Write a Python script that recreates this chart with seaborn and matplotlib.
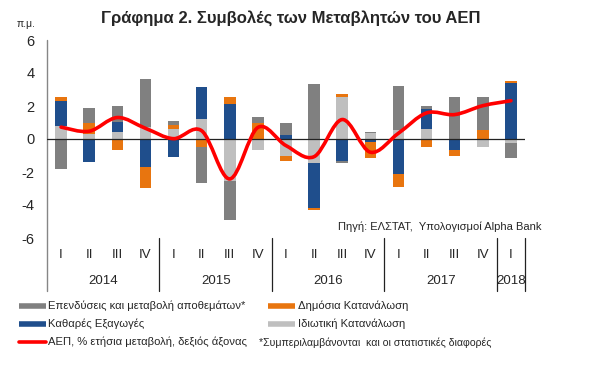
import numpy as np
import matplotlib
matplotlib.use("Agg")
import matplotlib.pyplot as plt
from matplotlib.path import Path
from matplotlib.patches import PathPatch
from matplotlib.lines import Line2D
import matplotlib.transforms as mtransforms
import seaborn as sns

# ---------------- data ----------------
quarters = ["I", "II", "III", "IV", "I", "II", "III", "IV", "I", "II", "III", "IV",
            "I", "II", "III", "IV", "I"]
years = ["2014", "2015", "2016", "2017", "2018"]
year_counts = [4, 4, 4, 4, 1]

private_cons = [0.81, 0.30, 0.44, 0.70, 0.60, 1.21, -2.53, -0.67, -1.01, -1.47, 2.57, 0.34,
                0.55, 0.60, 0.00, -0.50, -0.26]
net_exports = [1.47, -1.37, 0.57, -1.68, -1.07, 1.92, 2.12, 0.00, 0.26, -2.73, -1.31, -0.20,
               -2.12, 1.21, -0.67, 0.00, 3.39]
public_cons = [0.28, 0.70, -0.67, -1.31, 0.24, -0.46, 0.44, 0.97, -0.30, -0.08, 0.16, -0.97,
               -0.77, -0.50, -0.34, 0.55, 0.10]
investment = [-1.82, 0.87, 1.01, 2.95, 0.26, -2.22, -2.38, 0.34, 0.69, 3.33, -0.16, 0.10,
              2.65, 0.22, 2.53, 1.98, -0.91]
gdp = [0.72, 0.47, 1.30, 0.65, 0.02, 0.50, -2.42, 0.70, -0.40, -1.07, 1.18, -0.80,
       0.35, 1.58, 1.48, 2.02, 2.32]

lbl_inv = "Επενδύσεις και μεταβολή αποθεμάτων*"
lbl_pub = "Δημόσια Κατανάλωση"
lbl_net = "Καθαρές Εξαγωγές"
lbl_priv = "Ιδιωτική Κατανάλωση"
lbl_gdp = "ΑΕΠ, % ετήσια μεταβολή, δεξιός άξονας"
note = "*Συμπεριλαμβάνονται  και οι στατιστικές διαφορές"
source = "Πηγή: ΕΛΣΤΑΤ,  Υπολογισμοί Alpha Bank"
title = "Γράφημα 2. Συμβολές των Μεταβλητών του ΑΕΠ"
unit = "π.μ."

# ---------------- style ----------------
sns.set_theme(style="white")
plt.rcParams["font.family"] = ["Liberation Sans", "DejaVu Sans"]

C_LG = "#BFBFBF"
C_BLUE = "#1F4E8C"
C_OR = "#E8750F"
C_GRAY = "#808080"
C_RED = "#FF0000"

W, H = 591, 373
fig = plt.figure(figsize=(W / 100, H / 100), dpi=100)
ax = fig.add_axes([47 / W, 1 - 238 / H, 478 / W, 198 / H])

n = len(gdp)
x = np.arange(n)
series = [(private_cons, C_LG), (net_exports, C_BLUE), (public_cons, C_OR), (investment, C_GRAY)]
pos = np.zeros(n)
neg = np.zeros(n)
for vals, col in series:
    v = np.array(vals, dtype=float)
    bottoms = np.where(v >= 0, pos, neg)
    ax.bar(x, v, width=0.41, bottom=bottoms, color=col, edgecolor="none", zorder=2)
    pos = pos + np.where(v >= 0, v, 0)
    neg = neg + np.where(v < 0, v, 0)

ax.axhline(0, color="#222222", lw=0.9, zorder=3)

# smoothed GDP line (Bezier, Excel-like smoothing)
P = np.column_stack([x, gdp]).astype(float)
verts = [P[0]]
codes = [Path.MOVETO]
for i in range(n - 1):
    p0 = P[i - 1] if i > 0 else P[i]
    p1 = P[i]
    p2 = P[i + 1]
    p3 = P[i + 2] if i + 2 < n else P[i + 1]
    c1 = p1 + (p2 - p0) / 6.0
    c2 = p2 - (p3 - p1) / 6.0
    verts += [c1, c2, p2]
    codes += [Path.CURVE4] * 3
path = Path(verts, codes)
ax.add_patch(PathPatch(path, facecolor="none", edgecolor=C_RED, lw=2.6,
                       capstyle="round", joinstyle="round", zorder=4,
                       transform=ax.transData))

ax.set_xlim(-0.5, n - 0.5)
ax.set_ylim(-6, 6)
ax.set_yticks(np.arange(-6, 7, 2))
ax.set_yticklabels([str(t) for t in range(-6, 7, 2)], fontsize=10.5)
ax.tick_params(axis="y", length=0, pad=9)
ax.set_xticks([])
for s in ["top", "right", "bottom", "left"]:
    ax.spines[s].set_visible(False)

# axis line & year separators extending into the label area
trans = mtransforms.blended_transform_factory(ax.transData, ax.transAxes)
y_low = (238 - 291) / 198.0
ax.plot([-0.5, -0.5], [1, y_low], color="#868686", lw=1.0, transform=trans, clip_on=False)
bounds = np.cumsum(year_counts) - 0.5
for b in bounds:
    ax.plot([b, b], [0, y_low], color="#222222", lw=0.9, transform=trans, clip_on=False)

# category labels
yq = (238 - 255) / 198.0
for i, q in enumerate(quarters):
    ax.text(i, yq, q, transform=trans, ha="center", va="center", fontsize=9.5)
yy = (238 - 281) / 198.0
start = -0.5
for yr, c in zip(years, year_counts):
    ax.text(start + c / 2.0, yy, yr, transform=trans, ha="center", va="center", fontsize=9.5)
    start += c

# titles & notes
fig.text(291 / W, 1 - 18 / H, title, ha="center", va="center", fontsize=12, fontweight="bold")
fig.text(17 / W, 1 - 24 / H, unit, ha="left", va="center", fontsize=7.5)
fig.text(338 / W, 1 - 227 / H, source, ha="left", va="center", fontsize=8)

# legend (manual)
def leg_patch(x0, y, color, lw):
    fig.add_artist(Line2D([x0 / W, (x0 + 27) / W], [1 - y / H, 1 - y / H],
                          color=color, lw=lw, solid_capstyle="butt"))

FS = 8.1
rows = [306, 324, 342]
leg_patch(19, rows[0], C_GRAY, 4)
fig.text(48 / W, 1 - rows[0] / H, lbl_inv, ha="left", va="center", fontsize=FS)
leg_patch(268, rows[0], C_OR, 4)
fig.text(298 / W, 1 - rows[0] / H, lbl_pub, ha="left", va="center", fontsize=FS)
leg_patch(19, rows[1], C_BLUE, 4)
fig.text(48 / W, 1 - rows[1] / H, lbl_net, ha="left", va="center", fontsize=FS)
leg_patch(268, rows[1], C_LG, 4)
fig.text(298 / W, 1 - rows[1] / H, lbl_priv, ha="left", va="center", fontsize=FS)
fig.add_artist(Line2D([19 / W, 46 / W], [1 - rows[2] / H, 1 - rows[2] / H],
                      color=C_RED, lw=2.6, solid_capstyle="round"))
fig.text(48 / W, 1 - rows[2] / H, lbl_gdp, ha="left", va="center", fontsize=FS)
fig.text(259 / W, 1 - (rows[2] + 1) / H, note, ha="left", va="center", fontsize=7.6)

fig.savefig("out.png", dpi=100)
